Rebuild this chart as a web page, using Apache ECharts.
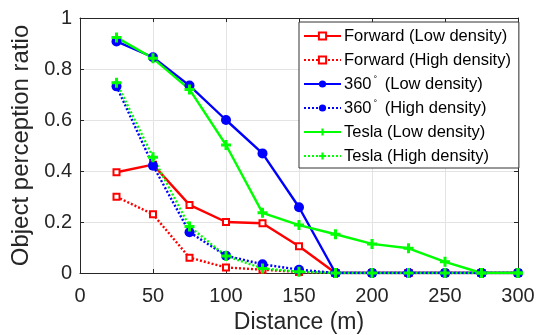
<!DOCTYPE html>
<html><head><meta charset="utf-8">
<script src="https://cdn.jsdelivr.net/npm/echarts@6/dist/echarts.min.js"></script>
<style>html,body{margin:0;padding:0;background:#fff}#c{width:546px;height:335px}</style>
</head><body><div id="c"></div>
<script>
const distances = [25, 50, 75, 100, 125, 150, 175, 200, 225, 250, 275, 300];
const forwardLow  = [0.395, 0.425, 0.267, 0.200, 0.195, 0.105, 0, 0, 0, 0, 0, 0];
const forwardHigh = [0.299, 0.230, 0.060, 0.022, 0.013, 0.004, 0, 0, 0, 0, 0, 0];
const r360Low     = [0.908, 0.846, 0.735, 0.600, 0.469, 0.258, 0, 0, 0, 0, 0, 0];
const r360High    = [0.732, 0.421, 0.160, 0.068, 0.034, 0.013, 0, 0, 0, 0, 0, 0];
const teslaLow    = [0.924, 0.842, 0.720, 0.502, 0.236, 0.188, 0.152, 0.114, 0.097, 0.044, 0, 0];
const teslaHigh   = [0.746, 0.454, 0.182, 0.067, 0.018, 0.005, 0, 0, 0, 0, 0, 0];
const seriesNames = ['Forward (Low density)', 'Forward (High density)', '360° (Low density)', '360° (High density)', 'Tesla (Low density)', 'Tesla (High density)'];
const xTicks = [0, 50, 100, 150, 200, 250, 300];
const yTicks = [0, 0.2, 0.4, 0.6, 0.8, 1];

const FONT = 'Liberation Sans';
const AX = '#262626';
const plus = 'path://M3.5,0H6.5V3.5H10V6.5H6.5V10H3.5V6.5H0V3.5H3.5Z';
const pair = v => distances.map((d, i) => [d, v[i]]);

function mk(name, data, color, dotted, symbol, size, empty) {
  return {
    name, type: 'line', data: pair(data), xAxisIndex: 0, yAxisIndex: 0,
    symbol, symbolSize: size, showSymbol: true,
    lineStyle: { color, width: 2.4, type: dotted ? [2, 2] : 'solid' },
    itemStyle: { color: empty ? '#fff' : color, borderColor: color, borderWidth: empty ? 2 : 0 },
    emphasis: { disabled: true }, animation: false
  };
}

const chart = echarts.init(document.getElementById('c'), null, { renderer: 'canvas' });
const baseAxis = {
  axisLine: { show: true, onZero: false, lineStyle: { color: AX, width: 1 } },
  axisTick: { show: true, inside: true, length: 4, lineStyle: { color: AX } },
};
chart.setOption({
  backgroundColor: '#fff',
  textStyle: { fontFamily: FONT },
  grid: { left: 80, right: 28, top: 18, bottom: 62, containLabel: false, outerBoundsMode: 'none' },
  xAxis: [
    Object.assign({}, baseAxis, {
      type: 'value', min: 0, max: 300, interval: 50, position: 'bottom',
      name: 'Distance (m)', nameLocation: 'middle', nameGap: 38,
      nameTextStyle: { fontSize: 23, color: AX, fontFamily: FONT },
      axisLabel: { fontSize: 20, color: AX, margin: 13, fontFamily: FONT },
      splitLine: { show: true, lineStyle: { color: '#e3e3e3', width: 1 } }
    }),
    Object.assign({}, baseAxis, {
      type: 'value', min: 0, max: 300, interval: 50, position: 'top',
      axisLabel: { show: false }, splitLine: { show: false }
    })
  ],
  yAxis: [
    Object.assign({}, baseAxis, {
      type: 'value', min: 0, max: 1, interval: 0.2, position: 'left',
      name: 'Object perception ratio', nameLocation: 'middle', nameGap: 35,
      nameTextStyle: { fontSize: 24, color: AX, fontFamily: FONT },
      axisLabel: { fontSize: 20, color: AX, margin: 8, fontFamily: FONT },
      splitLine: { show: true, lineStyle: { color: '#e3e3e3', width: 1 } }
    }),
    Object.assign({}, baseAxis, {
      type: 'value', min: 0, max: 1, interval: 0.2, position: 'right',
      axisLabel: { show: false }, splitLine: { show: false }
    })
  ],
  legend: {
    orient: 'vertical', left: 299, top: 22,
    padding: [5, 8, 3, 4],
    itemWidth: 37, itemHeight: 9, itemGap: 6,
    backgroundColor: '#fff', borderColor: '#333', borderWidth: 1, borderRadius: 0,
    selectedMode: false,
    data: seriesNames,
    formatter: n => n.replace('°', '{sup|°}'),
    textStyle: {
      fontSize: 16.5, lineHeight: 18, color: '#000', fontFamily: FONT, padding: [0, 0, 0, -2],
      rich: { sup: { fontSize: 9, lineHeight: 18, verticalAlign: 'top', padding: [0, 3, 0, 2], fontFamily: FONT } }
    }
  },
  series: [
    mk(seriesNames[0], forwardLow, '#ff0000', false, 'rect', 6, true),
    mk(seriesNames[1], forwardHigh, '#ff0000', true, 'rect', 6, true),
    mk(seriesNames[2], r360Low, '#0000ff', false, 'circle', 10, false),
    mk(seriesNames[3], r360High, '#0000ff', true, 'circle', 10, false),
    mk(seriesNames[4], teslaLow, '#00ff00', false, plus, 10, false),
    mk(seriesNames[5], teslaHigh, '#00ff00', true, plus, 10, false)
  ]
});
</script></body></html>
